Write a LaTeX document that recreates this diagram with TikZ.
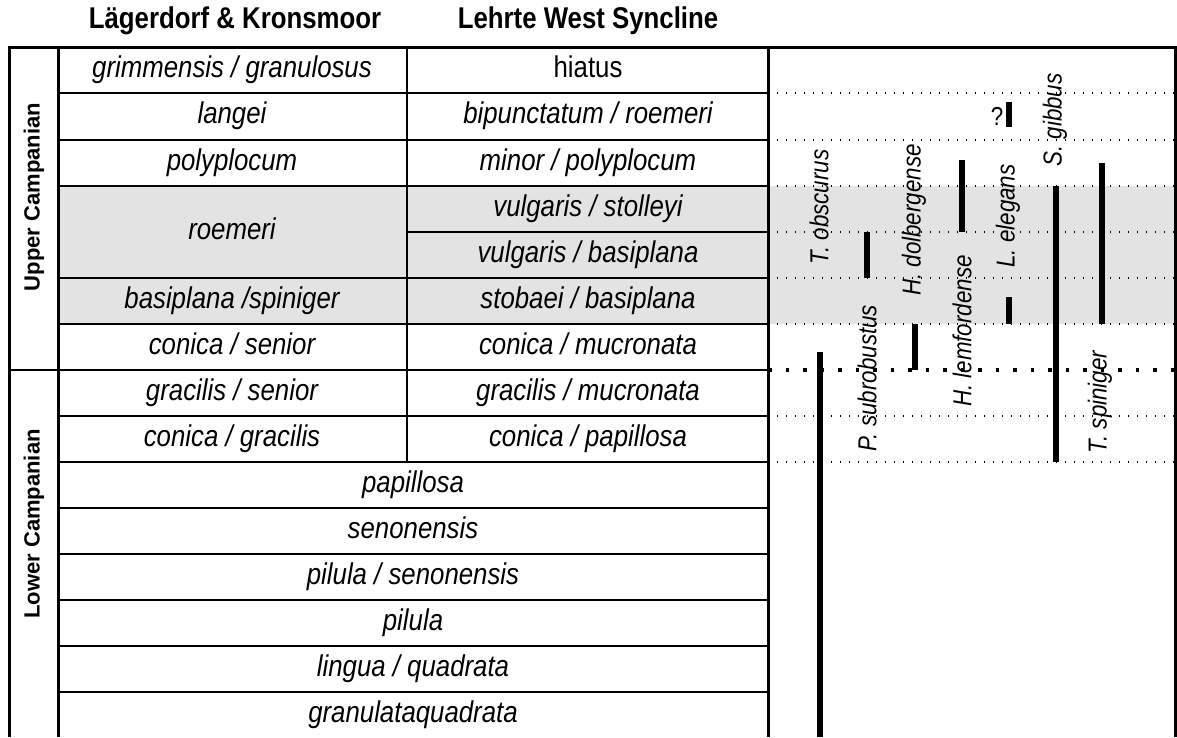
\documentclass[tikz,border=0pt]{standalone}
\usepackage{fontspec}
\setmainfont{Liberation Sans}
\newfontfamily\narrowfont[FakeStretch=0.86]{Liberation Sans}
\usetikzlibrary{positioning}
\definecolor{zonegray}{RGB}{227,227,227}

\begin{document}
\begin{tikzpicture}[x=1pt,y=-1pt,
  zone/.style={font=\narrowfont\fontsize{30}{34}\selectfont\itshape, inner sep=0pt, text height=21pt, text depth=6pt},
  head/.style={font=\narrowfont\fontsize{30}{34}\selectfont\bfseries, inner sep=0pt},
  stage/.style={font=\fontsize{22}{26}\selectfont\bfseries, rotate=90, inner sep=0pt},
  taxon/.style={font=\narrowfont\fontsize{26}{30}\selectfont\itshape, rotate=90, inner sep=0pt},
  frame/.style={line width=3pt},
  rowline/.style={line width=2pt},
  thindots/.style={line width=1.3pt, dash pattern=on 1.3pt off 7.7pt},
  thickdots/.style={line width=3.5pt, dash pattern=on 3.5pt off 14pt},
  rangebar/.style={line width=6.5pt}]
\useasboundingbox (0,0) rectangle (1177,737);
% grey band
\fill[zonegray] (58,186) rectangle (1175,324);
% dotted levels in range panel
\foreach \y in {93,140,186,232,278,324,416,462}
  \draw[thindots] (768,\y) -- (1175,\y);
\draw[thickdots] (768,370) -- (1175,370);
% zone boundaries
\foreach \y in {93,140,186,278,324,416,462,508,554,600,646,692}
  \draw[rowline] (58,\y) -- (768,\y);
\draw[rowline] (407,232) -- (768,232);
\draw[rowline] (9,370) -- (768,370);
\draw[line width=1.5pt] (407,47) -- (407,462);
% frame
\draw[frame] (9,737) -- (9,47) -- (1175,47) -- (1175,737);
\draw[frame] (58,47) -- (58,737);
\draw[frame] (768,47) -- (768,737);

% headings
\node[head] (hdKr) at (235,21) {Lägerdorf \& Kronsmoor};
\node[head] (hdLe) at (588,21) {Lehrte West Syncline};
\node[stage] (upper) at (34,197) {Upper Campanian};
\node[stage] (lower) at (34,524) {Lower Campanian};

% Laegerdorf / Kronsmoor zones
\foreach \y/\txt [count=\i] in {70/{grimmensis / granulosus}, 116/{langei}, 163/{polyplocum},
    232/{roemeri}, 301/{basiplana /spiniger}, 347/{conica / senior},
    393/{gracilis / senior}, 439/{conica / gracilis}}
  \node[zone] (kr\i) at (232,\y) {\txt};
% Lehrte zones
\node[zone, font=\narrowfont\fontsize{30}{34}\selectfont] (le1) at (588,70) {hiatus};
\foreach \y/\txt [count=\i from 2] in {116/{bipunctatum / roemeri}, 163/{minor / polyplocum},
    209/{vulgaris / stolleyi}, 255/{vulgaris / basiplana}, 301/{stobaei / basiplana},
    347/{conica / mucronata}, 393/{gracilis / mucronata}, 439/{conica / papillosa}}
  \node[zone] (le\i) at (588,\y) {\txt};
% common zones
\foreach \y/\txt [count=\i] in {485/{papillosa}, 531/{senonensis}, 577/{pilula / senonensis},
    623/{pilula}, 669/{lingua / quadrata}, 715/{granulataquadrata}}
  \node[zone] (co\i) at (413,\y) {\txt};

% ranges
\draw[rangebar] (820,352) -- (820,737);
\draw[rangebar] (867,232) -- (867,278);
\draw[rangebar] (915,324) -- (915,370);
\draw[rangebar] (962,160) -- (962,232);
\draw[rangebar] (1009,102) -- (1009,127);
\draw[rangebar] (1009,297) -- (1009,324);
\draw[rangebar] (1056,186) -- (1056,462);
\draw[rangebar] (1102,163) -- (1102,324);
\node[font=\narrowfont\fontsize{26}{30}\selectfont, inner sep=0pt] (qm) at (997,116) {?};

% taxa
\node[taxon] (tobs) at (819,207) {T. obscurus};
\node[taxon] (psub) at (867,378) {P. subrobustus};
\node[taxon] (hdol) at (914,220) {H. dolbergense};
\node[taxon] (hlem) at (962,331) {H. lemfordense};
\node[taxon] (lele) at (1008,216) {L. elegans};
\node[taxon] (sgib) at (1055,120) {S. gibbus};
\node[taxon] (tspi) at (1100,402) {T. spiniger};
\end{tikzpicture}
\end{document}
